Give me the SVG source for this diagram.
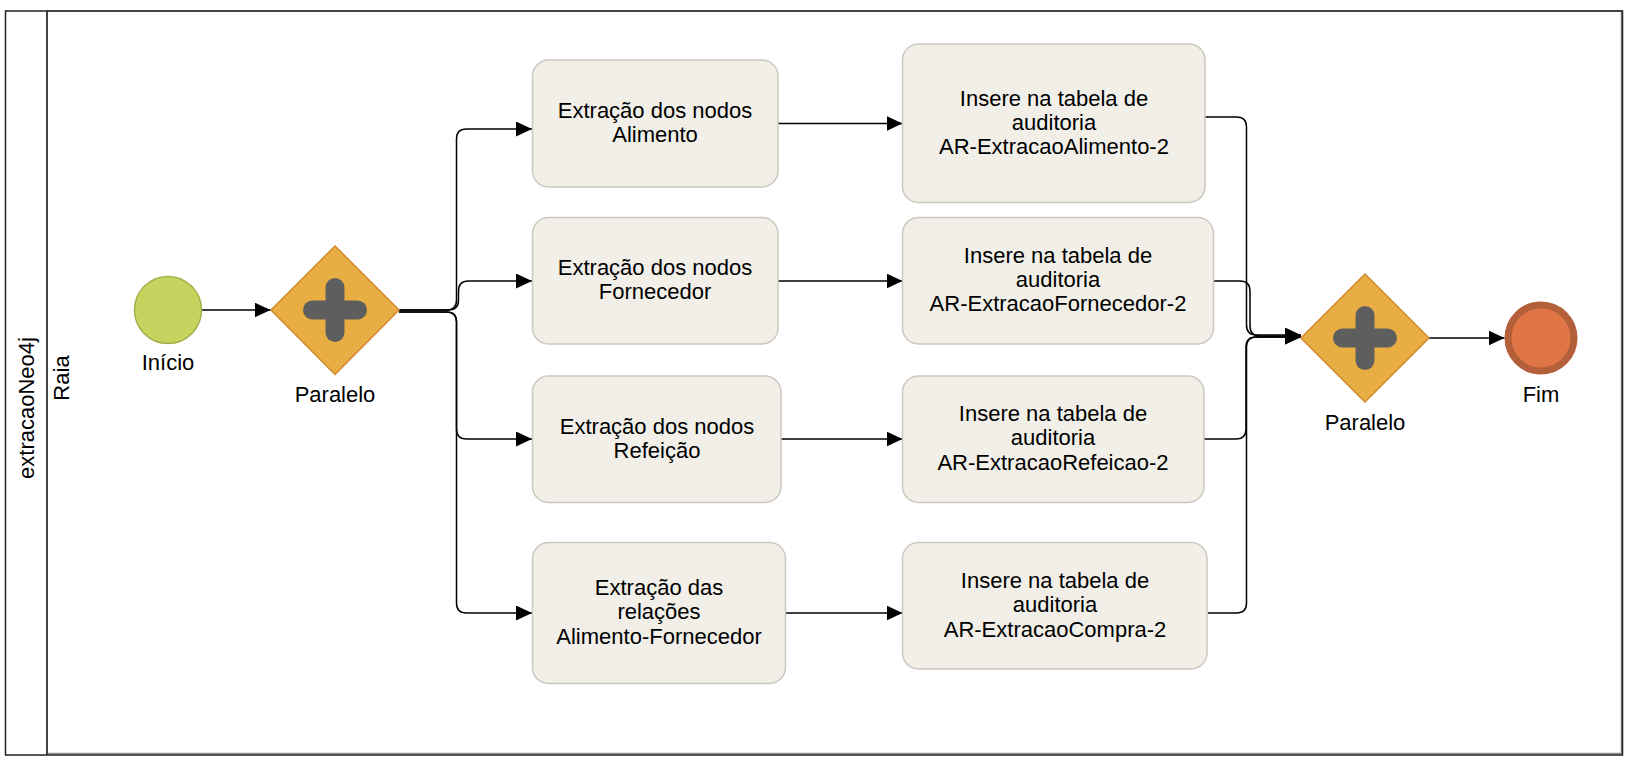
<svg xmlns="http://www.w3.org/2000/svg" width="1634" height="764" viewBox="0 0 1634 764">
<style>
text{font-family:"Liberation Sans",Arial,Helvetica,sans-serif;font-size:22px;fill:#000;text-anchor:middle}
.task{fill:#F1EFE8;stroke:#CCC8BF;stroke-width:1.5}
.gw{fill:#E9AE43;stroke:#D1892E;stroke-width:1.5}
.cross{stroke:#5E5E5E;stroke-width:19;stroke-linecap:round}
.conn{fill:none;stroke:#000;stroke-width:1.5;marker-end:url(#arr)}
</style>
<defs>
<marker id="arr" markerUnits="userSpaceOnUse" markerWidth="16" markerHeight="15" refX="16" refY="7.5" orient="auto">
<path d="M0,0 L16,7.5 L0,15 z" fill="#000"/>
</marker>
</defs>
<rect x="0" y="0" width="1634" height="764" fill="#fff"/>
<g id="pool">
<rect x="47" y="11" width="1574.5" height="742.5" fill="#fff" stroke="#8A8A8A" stroke-width="1.5"/>
<rect x="5.5" y="11" width="1617" height="744" fill="none" stroke="#222" stroke-width="1.5"/>
<line x1="47" y1="11" x2="47" y2="755" stroke="#222" stroke-width="1.5"/>
<text transform="translate(34,408) rotate(-90)">extracaoNeo4j</text>
<text transform="translate(68.5,378) rotate(-90)">Raia</text>
</g>
<g id="connectors">
<path class="conn" d="M202,310 H270.5"/>
<path class="conn" d="M399,310 H446.5 Q456.5,310 456.5,300 V139 Q456.5,129 466.5,129 H532"/>
<path class="conn" d="M399,310 H448.5 Q458.5,310 458.5,300 V291 Q458.5,281 468.5,281 H532"/>
<path class="conn" d="M399,312 H446.5 Q456.5,312 456.5,322 V429 Q456.5,439 466.5,439 H532"/>
<path class="conn" d="M399,312 H446.5 Q456.5,312 456.5,322 V603 Q456.5,613 466.5,613 H532"/>
<path class="conn" d="M778,123.5 H902.5"/>
<path class="conn" d="M778,281 H902.5"/>
<path class="conn" d="M781,439 H902.5"/>
<path class="conn" d="M786,613 H902.5"/>
<path class="conn" d="M1205,117 H1236.5 Q1246.5,117 1246.5,127 V325 Q1246.5,335 1256.5,335 H1301"/>
<path class="conn" d="M1213,281 H1240 Q1250,281 1250,291 V326 Q1250,336 1260,336 H1301"/>
<path class="conn" d="M1204,439 H1236 Q1246,439 1246,429 V347 Q1246,337 1256,337 H1301"/>
<path class="conn" d="M1208,613 H1236.5 Q1246.5,613 1246.5,603 V347 Q1246.5,337 1256.5,337 H1301"/>
<path class="conn" d="M1429,338 H1504.5"/>
</g>
<g id="start">
<circle cx="168" cy="310" r="33.5" fill="#C6D35F" stroke="#A2B14B" stroke-width="1.5"/>
<text x="168" y="370">Início</text>
</g>
<g id="gateway1">
<path class="gw" d="M335,246 L399,310 L335,374.5 L271,310 z"/>
<line class="cross" x1="335" y1="287.5" x2="335" y2="332.5"/>
<line class="cross" x1="312.5" y1="310" x2="357.5" y2="310"/>
<text x="335" y="401.5">Paralelo</text>
</g>
<g id="taskA">
<rect class="task" x="532.5" y="60" width="245.5" height="127" rx="16"/>
<text x="655" y="118">Extração dos nodos</text>
<text x="655" y="142">Alimento</text>
</g>
<g id="taskB">
<rect class="task" x="532.5" y="217.5" width="245.5" height="126.5" rx="16"/>
<text x="655" y="275">Extração dos nodos</text>
<text x="655" y="299">Fornecedor</text>
</g>
<g id="taskC">
<rect class="task" x="532.5" y="376" width="248.5" height="126.5" rx="16"/>
<text x="657" y="433.5">Extração dos nodos</text>
<text x="657" y="457.5">Refeição</text>
</g>
<g id="taskD">
<rect class="task" x="532.5" y="542.5" width="253" height="141" rx="16"/>
<text x="659" y="595">Extração das</text>
<text x="659" y="619">relações</text>
<text x="659" y="643.5">Alimento-Fornecedor</text>
</g>
<g id="taskE">
<rect class="task" x="902.5" y="44" width="302.5" height="158.5" rx="16"/>
<text x="1054" y="106">Insere na tabela de</text>
<text x="1054" y="130">auditoria</text>
<text x="1054" y="154">AR-ExtracaoAlimento-2</text>
</g>
<g id="taskF">
<rect class="task" x="902.5" y="217.5" width="311" height="126.5" rx="16"/>
<text x="1058" y="262.5">Insere na tabela de</text>
<text x="1058" y="286.5">auditoria</text>
<text x="1058" y="311">AR-ExtracaoFornecedor-2</text>
</g>
<g id="taskG">
<rect class="task" x="902.5" y="376" width="301.5" height="126.5" rx="16"/>
<text x="1053" y="421">Insere na tabela de</text>
<text x="1053" y="445">auditoria</text>
<text x="1053" y="469.5">AR-ExtracaoRefeicao-2</text>
</g>
<g id="taskH">
<rect class="task" x="902.5" y="542.5" width="304.5" height="126.5" rx="16"/>
<text x="1055" y="587.5">Insere na tabela de</text>
<text x="1055" y="612">auditoria</text>
<text x="1055" y="636.5">AR-ExtracaoCompra-2</text>
</g>
<g id="gateway2">
<path class="gw" d="M1365,274 L1429,338 L1365,402 L1301,338 z"/>
<line class="cross" x1="1365" y1="315.5" x2="1365" y2="360.5"/>
<line class="cross" x1="1342.5" y1="338" x2="1387.5" y2="338"/>
<text x="1365" y="429.5">Paralelo</text>
</g>
<g id="end">
<circle cx="1541" cy="338" r="33" fill="#E07646" stroke="#B35F3A" stroke-width="7"/>
<text x="1541" y="401.5">Fim</text>
</g>
</svg>
